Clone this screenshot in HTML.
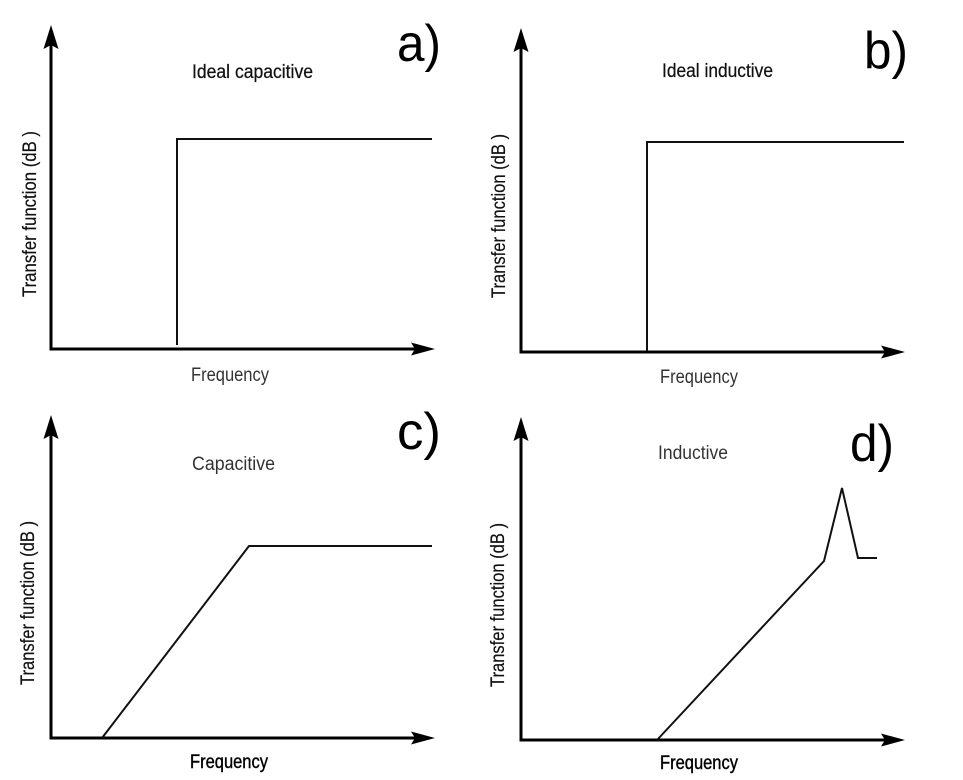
<!DOCTYPE html>
<html>
<head>
<meta charset="utf-8">
<style>
  html,body{margin:0;padding:0;background:#fff;}
  svg{display:block;}
  text{font-family:"Liberation Sans",Arial,sans-serif;}
</style>
</head>
<body>
<svg width="963" height="780" viewBox="0 0 963 780" xmlns="http://www.w3.org/2000/svg">
  <rect width="963" height="780" fill="#fff"/>

  <!-- ===== Panel a ===== -->
  <g stroke="#000" fill="none" stroke-width="3">
    <line x1="51" y1="350.5" x2="51" y2="44"/>
    <line x1="49.5" y1="349" x2="416" y2="349"/>
  </g>
  <polygon points="51,25 58.5,49 51,45 43.5,49" fill="#000"/>
  <polygon points="435,349 411,342.5 415,349 411,355.5" fill="#000"/>
  <polyline points="177,345 177,139 432,139" fill="none" stroke="#111" stroke-width="2"/>
  <text x="192" y="78" font-size="19" fill="#111" stroke="#111" stroke-width="0.25" textLength="121" lengthAdjust="spacingAndGlyphs">Ideal capacitive</text>
  <text x="397" y="61" font-size="52" fill="#000" textLength="44" lengthAdjust="spacingAndGlyphs">a)</text>
  <text x="191" y="381" font-size="19" fill="#333" textLength="78" lengthAdjust="spacingAndGlyphs">Frequency</text>
  <text transform="translate(36,214) rotate(-90)" text-anchor="middle" font-size="19" fill="#111" stroke="#111" stroke-width="0.2" textLength="166" lengthAdjust="spacingAndGlyphs">Transfer function (dB )</text>

  <!-- ===== Panel b ===== -->
  <g stroke="#000" fill="none" stroke-width="3">
    <line x1="521" y1="353.5" x2="521" y2="47"/>
    <line x1="519.5" y1="352" x2="886" y2="352"/>
  </g>
  <polygon points="521,28 528.5,52 521,48 513.5,52" fill="#000"/>
  <polygon points="905,352 881,345.5 885,352 881,358.5" fill="#000"/>
  <polyline points="647,351 647,142 904,142" fill="none" stroke="#111" stroke-width="2"/>
  <text x="662" y="77" font-size="19" fill="#111" stroke="#111" stroke-width="0.25" textLength="111" lengthAdjust="spacingAndGlyphs">Ideal inductive</text>
  <text x="864" y="68" font-size="52" fill="#000" textLength="44" lengthAdjust="spacingAndGlyphs">b)</text>
  <text x="660" y="383" font-size="19" fill="#333" textLength="78" lengthAdjust="spacingAndGlyphs">Frequency</text>
  <text transform="translate(505,216) rotate(-90)" text-anchor="middle" font-size="19" fill="#111" stroke="#111" stroke-width="0.2" textLength="164" lengthAdjust="spacingAndGlyphs">Transfer function (dB )</text>

  <!-- ===== Panel c ===== -->
  <g stroke="#000" fill="none" stroke-width="3">
    <line x1="51" y1="739.5" x2="51" y2="434"/>
    <line x1="49.5" y1="738" x2="416" y2="738"/>
  </g>
  <polygon points="51,415 58.5,439 51,435 43.5,439" fill="#000"/>
  <polygon points="435,738 411,731.5 415,738 411,744.5" fill="#000"/>
  <polyline points="102,738 249,546 432,546" fill="none" stroke="#111" stroke-width="2" stroke-linejoin="round"/>
  <text x="192" y="470" font-size="19" fill="#333" textLength="83" lengthAdjust="spacingAndGlyphs">Capacitive</text>
  <text x="397" y="449" font-size="52" fill="#000" textLength="44" lengthAdjust="spacingAndGlyphs">c)</text>
  <text x="190" y="768" font-size="19" fill="#000" stroke="#000" stroke-width="0.4" textLength="78" lengthAdjust="spacingAndGlyphs">Frequency</text>
  <text transform="translate(34,603) rotate(-90)" text-anchor="middle" font-size="19" fill="#111" stroke="#111" stroke-width="0.2" textLength="164" lengthAdjust="spacingAndGlyphs">Transfer function (dB )</text>

  <!-- ===== Panel d ===== -->
  <g stroke="#000" fill="none" stroke-width="3">
    <line x1="521" y1="741.5" x2="521" y2="436"/>
    <line x1="519.5" y1="740" x2="886" y2="740"/>
  </g>
  <polygon points="521,417 528.5,441 521,437 513.5,441" fill="#000"/>
  <polygon points="905,740 881,733.5 885,740 881,746.5" fill="#000"/>
  <polyline points="657,740 824,561 842,488 858,558 877,558" fill="none" stroke="#111" stroke-width="2" stroke-linejoin="miter"/>
  <text x="658" y="459" font-size="19" fill="#333" textLength="70" lengthAdjust="spacingAndGlyphs">Inductive</text>
  <text x="850" y="461" font-size="52" fill="#000" textLength="44" lengthAdjust="spacingAndGlyphs">d)</text>
  <text x="660" y="769" font-size="19" fill="#000" stroke="#000" stroke-width="0.4" textLength="78" lengthAdjust="spacingAndGlyphs">Frequency</text>
  <text transform="translate(504,605) rotate(-90)" text-anchor="middle" font-size="19" fill="#111" stroke="#111" stroke-width="0.2" textLength="164" lengthAdjust="spacingAndGlyphs">Transfer function (dB )</text>
</svg>
</body>
</html>
